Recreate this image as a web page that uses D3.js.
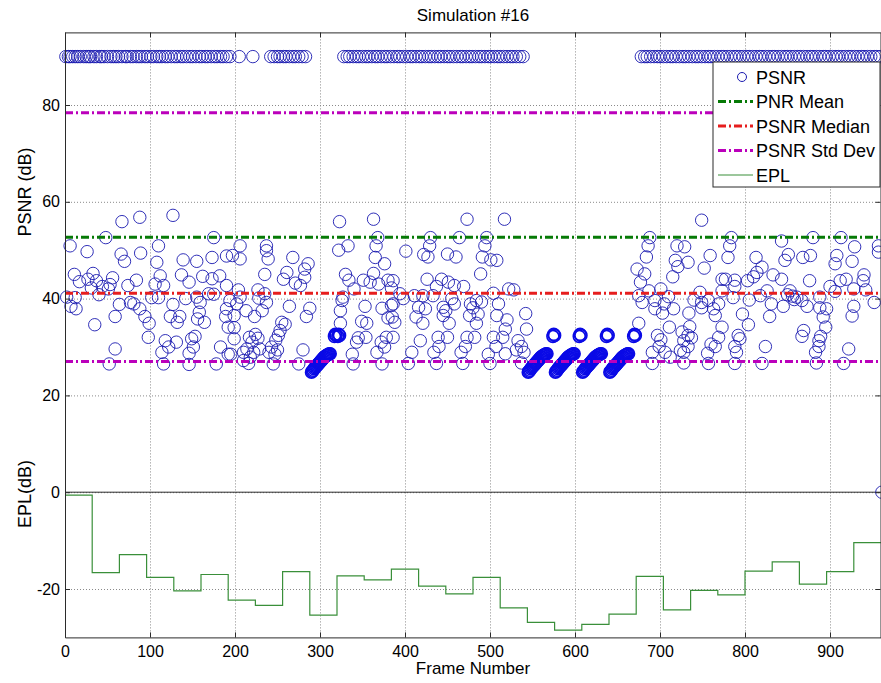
<!DOCTYPE html>
<html><head><meta charset="utf-8">
<script src="https://cdn.jsdelivr.net/npm/d3@7"></script>
<style>
body{margin:0;background:#fff}
svg{display:block}
text{font-family:"Liberation Sans",Arial,Helvetica,sans-serif;fill:#000}
</style>
</head><body>
<svg id="chart" width="881" height="683"></svg>
<script>
// ---------------- DATA ----------------
const chartTitle = "Simulation #16";
const xLabel = "Frame Number";
const yLabelTop = "PSNR (dB)";
const yLabelBottom = "EPL(dB)";
const xTicks = [0,100,200,300,400,500,600,700,800,900];
const yTicks = [-20,0,20,40,60,80];
const legendLabels = ["PSNR","PNR Mean","PSNR Median","PSNR Std Dev","EPL"];

// frames whose PSNR is capped at 90 dB (lossless)
const losslessFrames = [1,4,6,9,12,15,18,22,25,28,30,34,37,41,43,46,50,54,57,60,63,67,71,73,77,80,84,87,90,94,97,101,104,108,111,114,118,121,125,129,132,136,139,143,147,150,154,158,161,165,168,172,176,179,183,186,190,194,
205,221,
242,246,250,253,257,260,264,268,271,275,279,283,
328,332,335,339,343,346,350,354,357,361,365,368,372,376,379,383,387,391,394,398,402,406,409,413,417,420,424,428,431,435,439,442,446,450,453,457,461,465,468,472,476,479,483,487,490,494,498,501,505,509,512,516,520,524,527,531,535,539,
678,682,685,689,693,697,700,704,708,712,715,719,723,727,730,734,738,742,745,749,753,757,760,764,768,772,775,779,783,787,790,794,798,802,805,809,813,817,820,824,828,832,835,839,843,847,850,854,858,862,865,869,873,877,880,884,888,892,895,899,903,907,910,914,918,922,925,929,933,937,940,944,948,952,955,959];
const losslessPSNR = 90;

// scattered PSNR values [frame, dB]
const psnrPoints = [
[67,55.9],[88,56.8],[127,57.2],[48,52.6],[175,52.6],[6,50.9],[26,49.7],[66,49.2],[70,47.7],[89,49.4],[110,50.9],[108,47.5],[139,48],[155,47.7],[173,48.5],[190,48.8],[11,45],[17,43.5],[33,45.2],[27,44],[37,43.7],[31,42.2],[44,42.5],[56,44.3],[53,42.9],[74,42.7],[84,43.8],[106,43],[116,42.7],[112,44.7],[137,44.9],[146,43.4],[162,44.6],[173,44.1],[182,44.7],[190,42.7],[2,40.3],[12,40.2],[7,38.4],[13,37.9],[40,40.8],[51,42],[64,38.8],[77,39.2],[81,38.9],[59,36.3],[88,37.9],[94,36.3],[99,34.9],[35,34.6],[102,40.2],[110,40.2],[127,38.8],[124,36.3],[135,36.3],[132,35.1],[142,40],[155,40.3],[159,39.2],[158,37.2],[156,35.8],[164,35.1],[169,41],[175,40.9],[190,37.9],[189,36.3],[98,32],[59,29.6],[52,26.5],[118,31.3],[114,28.9],[122,30],[131,31],[116,26.5],[149,31.7],[153,32.2],[151,30],[146,28.7],[146,26.4],[183,30],[178,26.5],[192,28.5],
[323,55.9],[363,56.4],[368,52.6],[206,50.9],[237,50.9],[237,49.9],[197,48.9],[206,48.2],[239,48.2],[268,48.5],[322,50],[333,50.9],[366,50.9],[365,48.5],[376,47.2],[235,45],[261,45.4],[257,44],[282,46.1],[286,47.2],[282,44.4],[271,43.2],[277,42.7],[330,45],[334,43.8],[340,42],[327,40.3],[326,39.6],[351,43.8],[359,43.4],[363,45.2],[369,43],[380,43.8],[384,42.2],[204,41.8],[194,39.6],[202,38.9],[206,40.3],[227,41.8],[228,40.1],[235,41],[237,39.2],[232,37.5],[213,37.5],[223,36.3],[199,36.5],[199,34],[264,38.4],[288,38],[284,36.3],[255,35.1],[259,34.7],[253,33.4],[251,32.4],[324,37.5],[324,34.9],[349,35.3],[355,34.9],[380,36],[384,38.6],[373,38],[353,38.4],[345,31.9],[343,31],[354,32],[376,30],[378,32],[372,31],[367,28.9],[373,26.5],[338,28.5],[339,26.5],[192,34.1],[199,31.7],[195,28.5],[217,32],[220,31],[214,29.6],[210,28.9],[224,32.6],[227,31.8],[222,28.9],[229,29.6],[240,28.9],[243,30],[250,29.4],[248,31.4],[247,28.5],[218,27.9],[210,27.2],[216,26.6],[245,26.5],[280,29.4],[275,26.5],
[473,56.4],[517,56.4],[430,52.6],[464,52.6],[496,52.6],[429,50.9],[494,50.9],[401,49.8],[422,49.1],[427,48.6],[450,49.2],[460,48.6],[491,48.6],[501,48],[508,47.9],[489,45.1],[386,43.7],[426,44],[443,44],[451,43.4],[458,42.7],[469,42.5],[437,42.5],[394,41],[398,40],[411,40.6],[421,40.6],[433,40.6],[455,40],[484,39.6],[490,39.3],[504,41.1],[522,42],[528,41.8],[386,38.9],[385,36.2],[388,35.1],[416,38.2],[424,37.9],[413,36.2],[421,34.9],[445,38.2],[445,36.5],[448,37.5],[452,34.9],[458,38.9],[477,38.9],[480,38.1],[476,36.5],[486,36.8],[484,34.9],[508,36.5],[510,38.9],[520,35.6],[518,33.7],[542,36.9],[543,33.7],[418,31.3],[408,28.9],[439,32],[434,28.9],[440,30.1],[450,32],[466,28.9],[471,30.1],[473,32],[482,32],[498,28.5],[504,32],[507,30.1],[515,32],[518,28.6],[531,29.4],[533,31.3],[537,30.1],[540,28.9],[404,26.6],[437,26.6],[468,26.6],[500,26.6],[537,26.7],[386,32],
[749,56.2],[688,52.6],[686,50.9],[684,48.6],[720,50.9],[729,50.7],[718,47.9],[721,46.6],[733,47.5],[759,48.9],[752,46.3],[673,46.1],[682,45.1],[677,43.4],[715,44.5],[773,44],[687,41.6],[701,42],[675,40.6],[679,39.2],[694,39.6],[694,37.9],[705,38.9],[703,37],[716,37.9],[710,40.4],[740,39.7],[747,41.3],[749,39.2],[757,39.6],[749,38.1],[763,37.9],[765,36.5],[769,38.9],[734,37],[675,34.9],[711,34.1],[735,34.2],[726,33.1],[733,32.4],[737,31.9],[728,31.3],[697,32.4],[701,31.5],[699,30.1],[691,28.9],[706,28.9],[724,29.3],[728,28.9],[733,30.1],[712,27.9],[691,26.6],[728,26.7],[757,26.6],[760,30.6],[756,28.7],[769,32],[765,30.1],
[784,52.6],[843,51.9],[880,52.6],[913,52.6],[957,50.9],[782,50.9],[780,48.5],[929,50.7],[813,48.5],[851,49.1],[847,47.9],[868,48.5],[877,48.9],[908,48.9],[906,47.2],[926,47.7],[957,49.6],[820,46.5],[814,45.4],[810,44.5],[803,43.7],[788,43.8],[777,44],[833,44.9],[843,44],[876,43.7],[912,43.7],[919,44],[940,44.9],[939,43.7],[900,42.5],[788,42.5],[773,41.6],[826,41.6],[818,40.6],[805,39.7],[786,40.2],[853,41.6],[861,40.3],[867,39.6],[873,38.4],[831,38.9],[845,38.4],[888,40.3],[896,37.9],[888,38.1],[892,36.2],[906,41.5],[928,42],[928,38.4],[926,36.4],[942,41.8],[952,39.2],[829,36.3],[797,36.8],[804,34.6],[773,34.1],[792,32.4],[794,31.7],[788,30.1],[790,28.9],[824,30.1],[869,33.4],[867,32.2],[889,32.2],[887,31.3],[887,30.1],[883,28.9],[895,34.1],[922,29.6],[788,26.6],[820,26.6],[884,26.7],[916,26.6],[856,40.5],[858,39.8],[850,40.8],
[961,0]
];

// degraded GOPs: rising low-PSNR runs, one value per frame
const rampStartFrames = [290,545,577,609,641];
const rampValues = [24.8,25.0,25.2,25.5,25.7,25.9,26.1,26.3,26.5,26.7,26.9,27.1,27.3,27.5,27.7,27.9,28.0,28.2,28.3,28.4,28.5,28.6,28.6];
const peakFrames = [317,318,319,321,322,323,574,575,576,605,606,607,637,638,639,669,670,671];
const peakValues = [32.2,32.6,32.4,32.2,32.6,32.4,32.2,32.6,32.4,32.2,32.6,32.4,32.2,32.6,32.4,32.2,32.6,32.4];

// summary statistics (dB)
const psnrMean = 52.7;
const psnrMedian = 41.1;
const psnrStd = 25.7;

// EPL per 32-frame segment
const eplStartFrames = [0,32,64,96,128,160,192,224,256,288,320,352,384,416,448,480,512,544,576,608,640,672,704,736,768,800,832,864,896,928,960];
const eplValues = [-0.6,-16.6,-12.9,-17.6,-20.4,-17,-22.3,-23.4,-16.4,-25.4,-17.3,-18.1,-15.9,-19.4,-21,-17.6,-23.9,-26.9,-28.5,-27.3,-25.2,-17.4,-24.3,-20.3,-21.2,-16.3,-14.4,-19,-16.4,-10.4,-10.4];

// ---------------- DRAW ----------------
const L = 65, R = 881, T = 32.4, B = 637.4;
const svg = d3.select("#chart");
const x = d3.scaleLinear().domain([0,960]).range([L,R]);
const y = d3.scaleLinear().domain([-30,95]).range([B,T]);

const col = {axis:"#2b2b2b", grid:"#8a8a8a", pt:"#1a1ab0", ptBold:"#0a0ae6", mean:"#067a06", median:"#e61e1e", std:"#bb00bb", epl:"#3a8f3a"};

// grid
svg.append("g").attr("transform",`translate(0,${B})`)
  .call(d3.axisBottom(x).tickValues(xTicks.filter(d=>d>0)).tickSize(-(B-T)).tickFormat(""))
  .call(g=>g.select(".domain").remove())
  .call(g=>g.selectAll("line").attr("stroke",col.grid).attr("stroke-dasharray","1,2"));
svg.append("g").attr("transform",`translate(${L},0)`)
  .call(d3.axisLeft(y).tickValues(yTicks).tickSize(-(R-L)).tickFormat(""))
  .call(g=>g.select(".domain").remove())
  .call(g=>g.selectAll("line").attr("stroke",col.grid).attr("stroke-dasharray","1,2"));

// zero line
svg.append("line").attr("x1",x(0)).attr("x2",x(960)).attr("y1",y(0)).attr("y2",y(0))
  .attr("stroke",col.axis).attr("stroke-width",1);

// points
const thinPts = [];
losslessFrames.forEach(f=>thinPts.push([f,losslessPSNR]));
psnrPoints.forEach(p=>thinPts.push(p));
const boldPts = [];
rampStartFrames.forEach(s=>rampValues.forEach((v,i)=>boldPts.push([s+i,v])));
peakFrames.forEach((f,i)=>boldPts.push([f,peakValues[i]]));
svg.append("g").selectAll("circle").data(thinPts).join("circle")
  .attr("cx",d=>x(d[0])).attr("cy",d=>y(d[1])).attr("r",6.2)
  .attr("fill","none").attr("stroke",col.pt).attr("stroke-width",0.9);
svg.append("g").selectAll("circle").data(boldPts).join("circle")
  .attr("cx",d=>x(d[0])).attr("cy",d=>y(d[1])).attr("r",6)
  .attr("fill","none").attr("stroke",col.ptBold).attr("stroke-width",1.6);

// stat lines
const dashDot = "8,3,2,3";
const statLines = [
  {v:psnrMean, c:col.mean},
  {v:psnrMedian, c:col.median},
  {v:psnrMean+psnrStd, c:col.std},
  {v:psnrMean-psnrStd, c:col.std}
];
svg.append("g").selectAll("line").data(statLines).join("line")
  .attr("x1",x(0)).attr("x2",x(960)).attr("y1",d=>y(d.v)).attr("y2",d=>y(d.v))
  .attr("stroke",d=>d.c).attr("stroke-width",3).attr("stroke-dasharray",dashDot);

// EPL
const eplData = eplStartFrames.map((f,i)=>[f,eplValues[i]]);
svg.append("path").datum(eplData)
  .attr("d",d3.line().x(d=>x(d[0])).y(d=>y(d[1])).curve(d3.curveStepAfter))
  .attr("fill","none").attr("stroke",col.epl).attr("stroke-width",1.2);

// axes (ticks inward)
function styleAxis(g){
  g.selectAll(".domain").attr("stroke",col.axis);
  g.selectAll(".tick line").attr("stroke",col.axis);
  g.selectAll("text").attr("font-size",16).attr("fill","#000")
   .attr("font-family",'"Liberation Sans",Arial,sans-serif');
}
svg.append("g").attr("transform",`translate(0,${B})`)
  .call(d3.axisBottom(x).tickValues(xTicks).tickSizeInner(-5).tickSizeOuter(0).tickPadding(8).tickFormat(d=>String(d)))
  .call(styleAxis);
svg.append("g").attr("transform",`translate(0,${T})`)
  .call(d3.axisTop(x).tickValues(xTicks).tickSizeInner(-5).tickSizeOuter(0).tickFormat(""))
  .call(styleAxis);
svg.append("g").attr("transform",`translate(${L},0)`)
  .call(d3.axisLeft(y).tickValues(yTicks).tickSizeInner(-5).tickSizeOuter(0).tickPadding(5).tickFormat(d=>String(d)))
  .call(styleAxis);
svg.append("g").attr("transform",`translate(${R-0.5},0)`)
  .call(d3.axisRight(y).tickValues(yTicks).tickSizeInner(-5).tickSizeOuter(0).tickFormat(""))
  .call(styleAxis);

// labels
svg.append("text").attr("x",(L+R)/2).attr("y",21).attr("text-anchor","middle").attr("font-size",17).text(chartTitle);
svg.append("text").attr("x",(L+R)/2).attr("y",674).attr("text-anchor","middle").attr("font-size",17).text(xLabel);
svg.append("text").attr("transform","translate(31,192) rotate(-90)").attr("text-anchor","middle").attr("font-size",18).text(yLabelTop);
svg.append("text").attr("transform","translate(31,494) rotate(-90)").attr("text-anchor","middle").attr("font-size",18).text(yLabelBottom);

// legend
const lg = svg.append("g");
lg.append("rect").attr("x",713).attr("y",62).attr("width",167).attr("height",125)
  .attr("fill","#fff").attr("stroke",col.axis).attr("stroke-width",1);
const legendRows = [
  {t:legendLabels[0], type:"marker"},
  {t:legendLabels[1], type:"line", c:col.mean, w:3, dash:dashDot},
  {t:legendLabels[2], type:"line", c:col.median, w:3, dash:dashDot},
  {t:legendLabels[3], type:"line", c:col.std, w:3, dash:dashDot},
  {t:legendLabels[4], type:"line", c:col.epl, w:1.2, dash:null}
];
const rowY = [77,101.5,126,150.5,175];
legendRows.forEach((r,i)=>{
  const cy = rowY[i];
  if(r.type==="marker"){
    lg.append("circle").attr("cx",742).attr("cy",cy).attr("r",4.5).attr("fill","none").attr("stroke",col.pt).attr("stroke-width",1);
  } else {
    const ln = lg.append("line").attr("x1",718).attr("x2",753).attr("y1",cy).attr("y2",cy)
      .attr("stroke",r.c).attr("stroke-width",r.w);
    if(r.dash) ln.attr("stroke-dasharray",r.dash);
  }
  lg.append("text").attr("x",756).attr("y",cy+6.5).attr("font-size",18).text(r.t);
});
</script>
</body></html>
